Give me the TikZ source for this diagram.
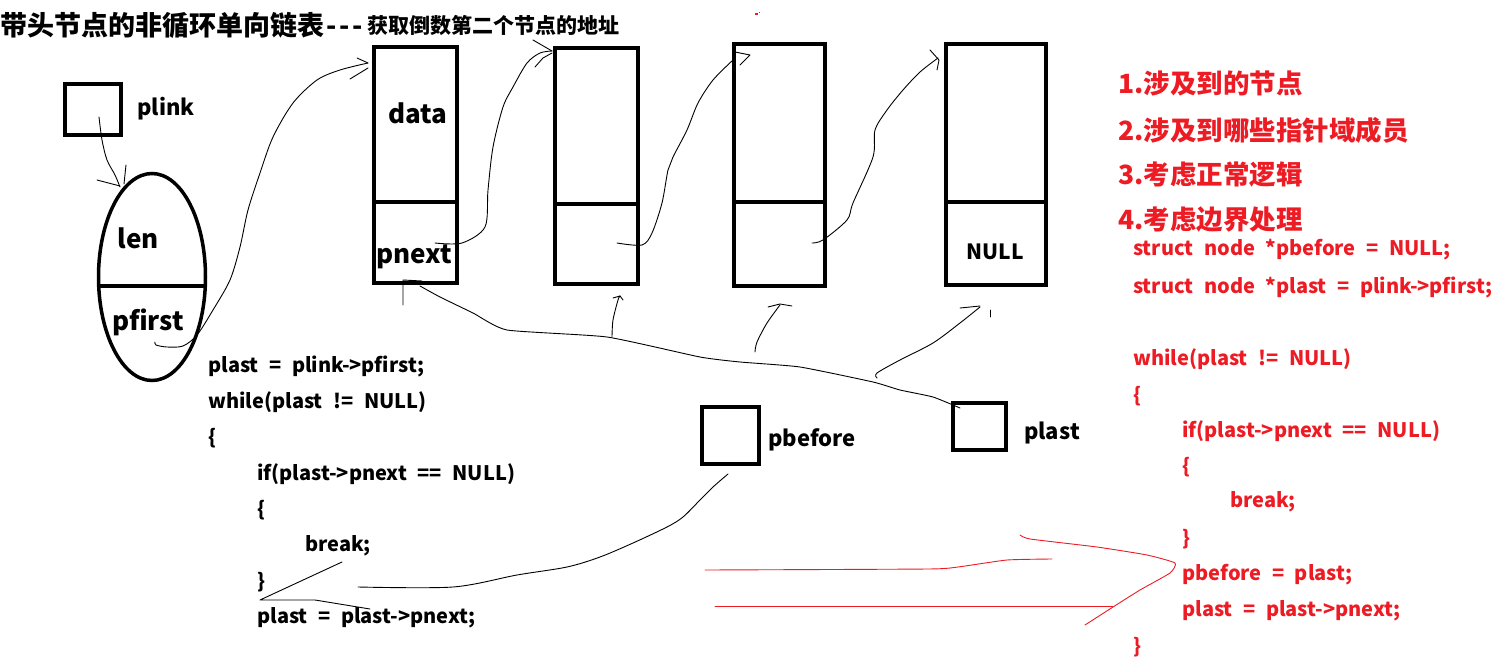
\documentclass[tikz,border=0pt]{standalone}
\usepackage{fontspec}
\setmainfont{Noto Sans CJK SC}
\newfontfamily\codefont{Noto Sans CJK SC}[WordSpace=2.3]
\usetikzlibrary{shapes.geometric}
\definecolor{paintred}{RGB}{237,28,36}
\tikzset{
  thickbox/.style={draw, line width=4pt, inner sep=0pt},
  hand/.style={line width=0.9pt, line cap=round, line join=round},
  redhand/.style={hand, draw=paintred},
  lbl/.style={inner sep=0pt, font=\fontsize{22}{24}\selectfont\bfseries},
  biglbl/.style={inner sep=0pt, font=\fontsize{26}{28}\selectfont\bfseries},
  code/.style={inner sep=0pt, anchor=west, font=\codefont\fontsize{20}{22}\selectfont\bfseries},
  redcode/.style={code, text=paintred},
  redhead/.style={inner sep=0pt, anchor=west, text=paintred, font=\fontsize{26.5}{28}\selectfont\bfseries},
}
\begin{document}
\begin{tikzpicture}[x=1pt,y=-1pt]
\fill[white] (0,0) rectangle (1494,666);
\useasboundingbox (0,0) rectangle (1494,666);

% title
\node[inner sep=0pt, anchor=west, font=\fontsize{27}{29}\selectfont\bfseries] (title) at (0,25) {带头节点的非循环单向链表\kern2pt{-}\kern3pt{-}\kern3pt{-}};
\node[inner sep=0pt, anchor=west, font=\fontsize{21}{23}\selectfont\bfseries] (subtitle) at (367,25) {获取倒数第二个节点的地址};
\fill[paintred] (755,13) rectangle (758,15);
\fill[paintred] (759,12) rectangle (760,13);

% plink and head
\node[thickbox, minimum width=56, minimum height=51] (plinkbox) at (93,109.5) {};
\node[lbl] (plinklbl) at (166,109) {plink};
\node[draw, ellipse, line width=3.5pt, inner sep=0pt, minimum width=107, minimum height=207] (head) at (152,277) {};
\draw[line width=3.5pt] (98.7,286) -- (205.3,286);
\node[biglbl] (lenlbl) at (138,238) {len};
\node[biglbl] (pfirstlbl) at (148,322) {pfirst};

% list nodes
\node[thickbox, minimum width=83, minimum height=155] (n1top) at (415.5,124.5) {};
\node[thickbox, minimum width=83, minimum height=81] (n1bot) at (415.5,242.5) {};
\node[biglbl] (datalbl) at (418,113) {data};
\node[biglbl] (pnextlbl) at (414,257) {pnext};

\node[thickbox, minimum width=83, minimum height=156] (n2top) at (596.5,126) {};
\node[thickbox, minimum width=83, minimum height=80] (n2bot) at (596.5,244) {};

\node[thickbox, minimum width=91, minimum height=158] (n3top) at (779.5,123) {};
\node[thickbox, minimum width=91, minimum height=84] (n3bot) at (779.5,244) {};

\node[thickbox, minimum width=100, minimum height=158] (n4top) at (996,123) {};
\node[thickbox, minimum width=100, minimum height=83] (n4bot) at (996,243.5) {};
\node[lbl, font=\fontsize{21}{23}\selectfont\bfseries] (nulllbl) at (995,252) {NULL};

% pointer boxes
\node[thickbox, minimum width=57, minimum height=57] (pbeforebox) at (730.5,435.5) {};
\node[lbl] (pbeforelbl) at (812,440) {pbefore};
\node[thickbox, minimum width=53, minimum height=47] (plastbox) at (979.5,426.5) {};
\node[lbl] (plastlbl) at (1052,433) {plast};

% black code
\node[code] (c1) at (208,366) {plast = plink->pfirst;};
\node[code] (c2) at (208,402) {while(plast != NULL)};
\node[code] (c3) at (208,438) {\{};
\node[code] (c4) at (257,474) {if(plast->pnext == NULL)};
\node[code] (c5) at (257,510) {\{};
\node[code] (c6) at (305,546) {break;};
\node[code] (c7) at (257,582) {\}};
\node[code] (c8) at (257,618) {plast = plast->pnext;};

% red headings
\node[redhead] (h1) at (1118,83) {1.涉及到的节点};
\node[redhead] (h2) at (1118,130) {2.涉及到哪些指针域成员};
\node[redhead] (h3) at (1118,175) {3.考虑正常逻辑};
\node[redhead] (h4) at (1118,220) {4.考虑边界处理};

% red code
\node[redcode] (r1) at (1133,250) {struct node *pbefore = NULL;};
\node[redcode] (r2) at (1133,287) {struct node *plast = plink->pfirst;};
\node[redcode] (r3) at (1133,359) {while(plast != NULL)};
\node[redcode] (r4) at (1133,396) {\{};
\node[redcode] (r5) at (1182,431) {if(plast->pnext == NULL)};
\node[redcode] (r6) at (1182,467) {\{};
\node[redcode] (r7) at (1230,502) {break;};
\node[redcode] (r8) at (1182,539) {\}};
\node[redcode] (r9) at (1182,575) {pbefore = plast;};
\node[redcode] (r10) at (1182,611) {plast = plast->pnext;};
\node[redcode] (r11) at (1133,647) {\}};

% connector end points
\coordinate (plinkptr) at (99,117);
\coordinate (headtop) at (120,187);
\coordinate (pfirstptr) at (155,342);
\coordinate (n1in) at (368,63);
\coordinate (n1ptr) at (435,243);
\coordinate (n2in) at (552,51);
\coordinate (n2ptr) at (617,243);
\coordinate (n3in) at (733,60);
\coordinate (n3ptr) at (812,243);
\coordinate (n4in) at (938,58);
\coordinate (plastptr) at (960,408);
\coordinate (n1under) at (420,286);
\coordinate (pbeforeptr) at (728,474);
\coordinate (codeend) at (358,587);

% plink -> head
\draw[hand] plot[smooth] coordinates {(plinkptr) (102,140) (107,160) (115,175) (headtop)};
\draw[hand] (97,180) -- (120,186);
\draw[hand] (126,165) -- (124,184);

% pfirst -> node1
\draw[hand] plot[smooth, tension=0.5] coordinates {(pfirstptr) (156,345) (167,347) (183,346) (197,335) (213,310) (230,280) (240,247) (248,210) (260,173) (273,137) (293,103) (317,80) (340,70) (n1in)};
\draw[hand] (357,58) -- (n1in);
\draw[hand] (350,79) -- (368,68);

% node1 -> node2
\draw[hand] plot[smooth, tension=0.5] coordinates {(n1ptr) (462,243) (485,227) (488,190) (493,147) (503,107) (513,87) (527,63) (540,53) (n2in)};
\draw[hand] (533,40) -- (n2in);
\draw[hand] (535,67) -- (543,58) -- (552,53);

% node2 -> node3
\draw[hand] plot[smooth, tension=0.5] coordinates {(n2ptr) (642,245) (652,233) (662,203) (668,170) (673,157) (687,130) (698,103) (713,80) (n3in)};
\draw[hand] (735,52) -- (750,55) -- (740,65);

% node3 -> node4
\draw[hand] plot[smooth, tension=0.5] coordinates {(n3ptr) (823,240) (847,220) (853,203) (873,157) (875,130) (887,110) (903,90) (920,72) (n4in)};
\draw[hand] (930,50) -- (939,60) -- (937,70);

% plast -> node1 bottom
\draw[hand] plot[smooth, tension=0.3] coordinates {(plastptr) (933,397) (900,390) (873,382) (800,367) (740,362) (700,357) (607,337) (507,330) (473,313) (440,297) (n1under)};
\draw[hand] (403,305) -- (403,280) -- (422,281);

% branch arrows
\draw[hand] plot[smooth] coordinates {(612,337) (613,320) (618,300) (620,296)};
\draw[hand] (613,298) -- (620,296) -- (623,300);
\draw[hand] plot[smooth] coordinates {(755,352) (757,342) (767,323) (780,305)};
\draw[hand] (768,307) -- (780,304) -- (792,306);
\draw[hand] plot[smooth] coordinates {(877,378) (877,373) (900,360) (933,343) (960,323) (980,307)};
\draw[hand] (960,308) -- (980,306);
\draw[hand] (990,310) -- (990,317);

% pbefore -> code
\draw[hand] plot[smooth, tension=0.5] coordinates {(pbeforeptr) (713,487) (700,500) (683,517) (667,527) (633,543) (600,557) (567,567) (517,575) (453,587) (codeend)};
\draw[hand] (342,562) -- (260,600) -- (315,600) -- (370,609);

% red arrow
\draw[redhand] plot[smooth, tension=0.3] coordinates {(705,570) (928,569) (958,567) (1007,560) (1052,559)};
\draw[redhand] (715,606) -- (1113,606);
\draw[redhand] plot[smooth, tension=0.3] coordinates {(1020,535) (1030,539) (1097,547) (1147,555) (1175,563) (1170,573) (1140,590) (1113,607) (1085,625)};
\end{tikzpicture}
\end{document}
